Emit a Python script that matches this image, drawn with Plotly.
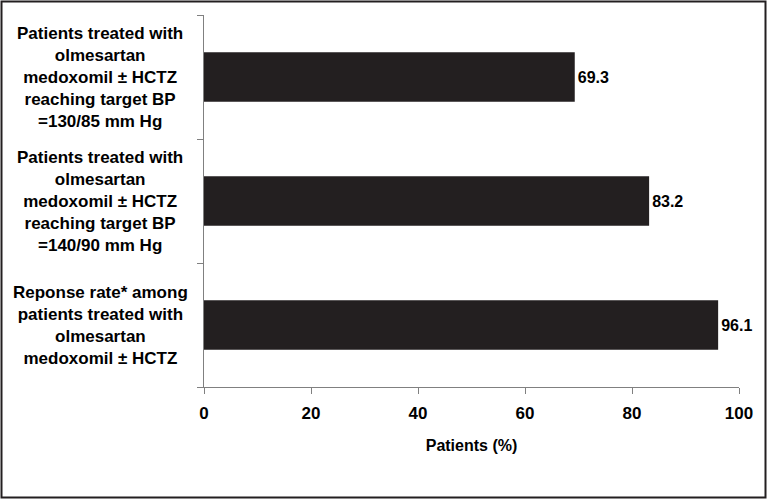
import plotly.graph_objects as go

categories = [
    "Patients treated with<br>olmesartan<br>medoxomil ± HCTZ<br>reaching target BP<br>=130/85 mm Hg",
    "Patients treated with<br>olmesartan<br>medoxomil ± HCTZ<br>reaching target BP<br>=140/90 mm Hg",
    "Reponse rate* among<br>patients treated with<br>olmesartan<br>medoxomil ± HCTZ",
]
values = [69.3, 83.2, 96.1]
value_labels = ["69.3", "83.2", "96.1"]
x_tickvals = [0, 20, 40, 60, 80, 100]
x_title = "Patients (%)"

FONT = "Liberation Sans, Arial, Helvetica, sans-serif"
W, H = 768, 500
ML, MR, MT, MB = 204, 29, 15, 113
PW = W - ML - MR
PH = H - MT - MB

fig = go.Figure(
    go.Bar(
        x=values,
        y=categories,
        orientation="h",
        marker=dict(color="#231f20", line=dict(width=0)),
        text=value_labels,
        textposition="outside",
        textfont=dict(family=FONT, size=16, color="#000000", weight="bold"),
        cliponaxis=False,
        hoverinfo="skip",
    )
)

for c in categories:
    fig.add_annotation(
        x=(100 - ML) / PW,
        xref="paper",
        y=c,
        yref="y",
        text=c,
        showarrow=False,
        xanchor="center",
        yanchor="middle",
        align="center",
        font=dict(family=FONT, size=17, color="#000000", weight="bold"),
    )

# outer frame around the whole figure
fig.add_shape(
    type="rect",
    xref="paper",
    yref="paper",
    x0=(1.5 - ML) / PW,
    x1=(W - 2.5 - ML) / PW,
    y0=-(MB - 2.5) / PH,
    y1=1 + (MT - 1.5) / PH,
    line=dict(color="#231f20", width=2),
    fillcolor="rgba(0,0,0,0)",
)

fig.update_layout(
    width=W,
    height=H,
    margin=dict(l=ML, r=MR, t=MT, b=MB),
    paper_bgcolor="white",
    plot_bgcolor="white",
    bargap=0.6,
    showlegend=False,
    font=dict(family=FONT, color="#000000"),
)

fig.update_xaxes(
    range=[0, 100],
    tickvals=x_tickvals,
    ticks="outside",
    ticklen=6,
    tickwidth=1,
    tickcolor="#808080",
    showline=True,
    linecolor="#808080",
    linewidth=1,
    showgrid=False,
    zeroline=False,
    ticklabelstandoff=5,
    tickfont=dict(family=FONT, size=17, color="#000000", weight="bold"),
    title=dict(text=x_title, font=dict(family=FONT, size=16, color="#000000", weight="bold"), standoff=17),
)

fig.update_yaxes(
    type="category",
    categoryorder="array",
    categoryarray=categories[::-1],
    tickson="boundaries",
    ticks="outside",
    ticklen=6,
    tickwidth=1,
    tickcolor="#808080",
    showticklabels=False,
    showline=True,
    linecolor="#808080",
    linewidth=1,
    showgrid=False,
    zeroline=False,
)

fig.write_html(
    "out.html",
    config={"displayModeBar": False, "staticPlot": True},
    post_script="document.body.style.margin='0';document.body.style.overflow='hidden';",
)
